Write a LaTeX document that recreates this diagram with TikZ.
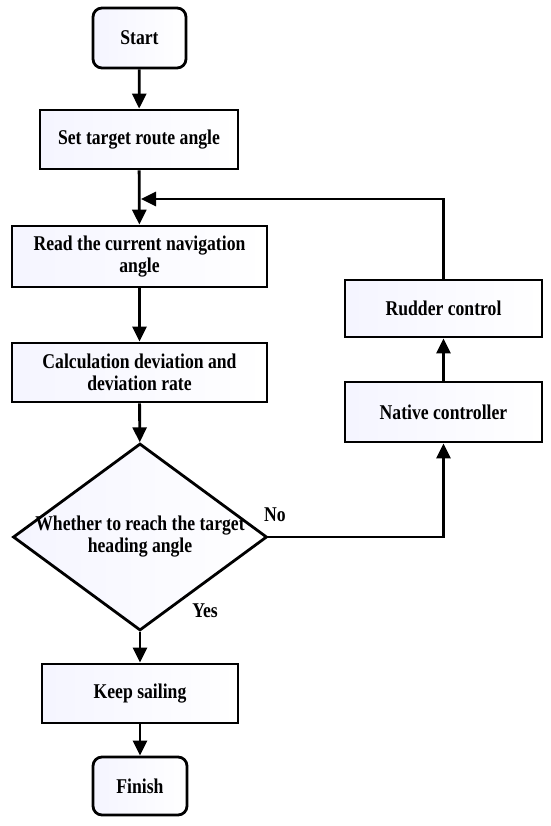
\documentclass[tikz,border=0pt]{standalone}
\usepackage{fontspec}
\setmainfont{Liberation Serif}[FakeStretch=0.84]
\usetikzlibrary{shapes.geometric,arrows.meta,positioning}

\begin{document}
\begin{tikzpicture}[x=1pt,y=-1pt,
	line width=2.8pt,
	txt/.style={font=\fontsize{21}{22}\selectfont\bfseries},
	procbox/.style={txt,draw,rectangle,align=center,inner sep=2pt,
		left color=blue!4!white,right color=white},
	termbox/.style={procbox,rounded corners=9pt},
	decbox/.style={txt,draw,diamond,aspect=1.36,align=center,inner xsep=-20pt,inner ysep=0pt,
		minimum width=254pt,minimum height=187pt,
		left color=blue!4!white,right color=white},
	arr/.style={-{Triangle[length=15pt,width=14pt]}}]
	\useasboundingbox (0,0) rectangle (550,826);
	% main column
	\node[termbox, minimum width=93pt, minimum height=60pt] (start) at (139.5,38) {Start};
	\node[procbox, minimum width=198pt, minimum height=59pt] (set) at (139,139.5) {Set target route angle};
	\node[procbox, minimum width=255pt, minimum height=61pt] (read) at (139.5,256.5) {Read the current navigation\\angle};
	\node[procbox, minimum width=255pt, minimum height=59pt] (calc) at (139.5,372.5) {Calculation deviation and\\deviation rate};
	\node[decbox] (dec) at (140,537) {Whether to reach the target\\heading angle};
	\node[procbox, minimum width=196pt, minimum height=59pt] (keep) at (140,693.5) {Keep sailing};
	\node[termbox, minimum width=94pt, minimum height=58pt] (finish) at (140,786) {Finish};
	% control loop
	\node[procbox, minimum width=197pt, minimum height=60pt] (native) at (443.5,412) {Native controller};
	\node[procbox, minimum width=197pt, minimum height=57pt] (rudder) at (443.5,308.5) {Rudder control};
	\coordinate (join) at (141,199);
	\node[txt] (no) at (275,515) {No};
	\node[txt] (yes) at (205,611) {Yes};

	\draw[arr] (start) -- (set);
	\draw[arr] (set) -- (read);
	\draw[arr] (read) -- (calc);
	\draw[arr] (calc) -- (dec);
	\draw[arr] (dec) -- (keep);
	\draw[arr] (keep) -- (finish);
	\draw[arr] (dec.east) -| (native.south);
	\draw[arr] (native) -- (rudder);
	\draw[arr] (rudder.north) |- (join);
\end{tikzpicture}
\end{document}
